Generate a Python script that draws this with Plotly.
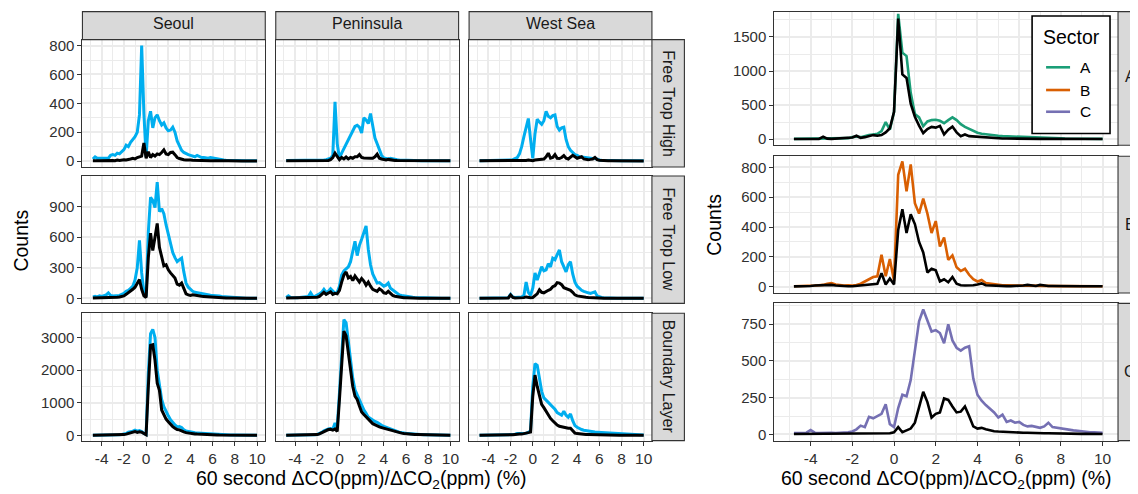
import plotly.graph_objects as go

W, H = 1138, 494
OFF = 8  # page body margin of the html page
FW, FH = W - OFF, H - OFF


def px(x):
    return (x - OFF) / FW


def py(y):
    return 1 - (y - OFF) / FH


# ---------------- data ----------------
x_bins = [round(-4.8 + 0.2 * i, 1) for i in range(75)]

regions = ["Seoul", "Peninsula", "West Sea"]
layers = ["Free Trop High", "Free Trop Low", "Boundary Layer"]
sectors = ["A", "B", "C"]
sector_colors = ["#1B9E77", "#D95F02", "#7570B3"]

# Free Trop High
sfh_b = [15, 30, 20, 20, 15, 18, 15, 20, 40, 45,
         40, 55, 50, 65, 80, 110, 100, 130, 150, 170,
         200, 320, 800, 330, 30, 280, 345, 230, 300, 320,
         280, 250, 265, 230, 210, 215, 235, 200, 140, 110,
         75, 60, 50, 45, 40, 35, 30, 40, 30, 25,
         25, 20, 20, 25, 22, 15, 12, 10, 10, 8,
         6, 5, 5, 4, 4, 3, 3, 2, 2, 2,
         2, 2, 2, 2, 2]
sfh_k = [3, 5, 3, 2, 3, 2, 3, 5, 5, 4,
         3, 8, 5, 8, 10, 8, 10, 15, 20, 15,
         25, 30, 35, 125, 20, 65, 25, 45, 35, 50,
         45, 60, 78, 50, 45, 60, 62, 45, 25, 18,
         12, 10, 8, 10, 8, 6, 5, 8, 5, 4,
         4, 3, 3, 3, 3, 2, 2, 2, 2, 2,
         2, 2, 1, 1, 1, 1, 1, 1, 1, 1,
         1, 1, 1, 1, 1]
pfh_b = [5, 5, 4, 4, 5, 4, 4, 3, 4, 5,
         4, 5, 5, 6, 5, 6, 6, 8, 10, 15,
         20, 40, 410, 120, 20, 55, 85, 120, 150, 185,
         215, 240, 248, 235, 195, 300, 285, 260, 330, 240,
         160, 120, 85, 40, 22, 18, 15, 20, 15, 12,
         10, 8, 7, 6, 5, 5, 4, 4, 3, 3,
         3, 3, 3, 2, 2, 2, 2, 2, 2, 2,
         2, 2, 2, 2, 2]
pfh_k = [3, 3, 3, 3, 3, 3, 3, 3, 3, 3,
         3, 3, 3, 3, 3, 3, 4, 4, 5, 5,
         10, 25, 55, 30, 10, 25, 15, 28, 15, 25,
         20, 30, 30, 45, 25, 22, 20, 18, 20, 20,
         30, 48, 20, 15, 10, 8, 12, 8, 6, 5,
         4, 4, 3, 3, 3, 3, 2, 2, 2, 2,
         2, 2, 2, 2, 2, 2, 2, 2, 2, 2,
         2, 2, 2, 2, 2]
wfh_b = [3, 3, 3, 3, 3, 3, 4, 4, 4, 5,
         5, 6, 6, 8, 8, 10, 15, 25, 50, 100,
         170, 240, 295, 150, 20, 190, 290, 270, 255, 280,
         345, 310, 300, 315, 320, 240, 215, 230, 235, 150,
         100, 75, 60, 45, 40, 30, 28, 25, 25, 22,
         20, 18, 20, 12, 8, 6, 5, 4, 4, 3,
         3, 3, 2, 2, 2, 2, 2, 2, 2, 2,
         2, 2, 2, 2, 2]
wfh_k = [2, 2, 2, 2, 2, 2, 2, 2, 2, 2,
         2, 2, 2, 2, 2, 2, 2, 3, 3, 3,
         5, 5, 8, 5, 3, 8, 10, 12, 10, 15,
         30, 55, 20, 25, 45, 20, 18, 25, 38, 20,
         15, 25, 40, 30, 20, 25, 30, 15, 12, 10,
         12, 15, 25, 10, 6, 4, 3, 3, 2, 2,
         2, 2, 2, 2, 2, 2, 1, 1, 1, 1,
         1, 1, 1, 1, 1]

# Free Trop Low
sfl_b = [15, 20, 15, 25, 20, 30, 35, 55, 30, 25,
         25, 30, 30, 40, 50, 70, 80, 100, 120, 180,
         300, 570, 250, 60, 20, 650, 990, 960, 890, 1140,
         850, 880, 830, 720, 620, 520, 450, 400, 360, 380,
         395, 260, 150, 110, 85, 70, 60, 55, 50, 45,
         40, 38, 35, 32, 30, 30, 28, 25, 20, 18,
         15, 12, 10, 8, 6, 5, 5, 4, 4, 3,
         3, 3, 2, 2, 2]
sfl_k = [5, 5, 5, 8, 5, 8, 10, 8, 8, 10,
         10, 12, 15, 20, 25, 40, 55, 75, 90, 110,
         150, 185, 90, 25, 10, 400, 640, 470, 600, 735,
         500, 400, 320, 330, 280, 250, 220, 200, 140, 130,
         150, 90, 45, 35, 30, 35, 30, 30, 25, 22,
         20, 18, 15, 12, 10, 10, 8, 8, 6, 5,
         4, 4, 3, 3, 3, 2, 2, 2, 2, 2,
         1, 1, 1, 1, 1]
pfl_b = [10, 25, 10, 8, 10, 8, 10, 12, 15, 15,
         20, 55, 20, 20, 30, 45, 60, 90, 60, 70,
         95, 70, 50, 60, 120, 230, 270, 290, 310, 360,
         450, 560, 420, 520, 580, 640, 710, 480, 330, 240,
         190, 150, 155, 140, 120, 130, 150, 100, 85, 70,
         50, 35, 30, 25, 22, 20, 15, 12, 10, 10,
         8, 8, 6, 6, 5, 5, 4, 4, 3, 3,
         3, 2, 2, 2, 2]
pfl_k = [5, 5, 5, 5, 5, 5, 5, 5, 5, 6,
         8, 10, 8, 10, 12, 20, 45, 60, 40, 55,
         65, 40, 50, 45, 80, 160, 230, 260, 200, 215,
         175, 220, 190, 160, 195, 170, 130, 160, 120, 90,
         80, 70, 95, 80, 55, 50, 70, 45, 30, 22,
         18, 12, 10, 8, 8, 6, 5, 5, 4, 4,
         3, 3, 3, 2, 2, 2, 2, 2, 1, 1,
         1, 1, 1, 1, 1]
wfl_b = [2, 2, 2, 2, 2, 2, 2, 3, 3, 3,
         3, 4, 5, 8, 40, 15, 10, 10, 10, 15,
         30, 160, 60, 30, 100, 250, 180, 240, 310, 270,
         280, 340, 310, 395, 380, 430, 475, 360, 300, 260,
         330, 360, 240, 160, 120, 95, 80, 70, 60, 55,
         50, 55, 65, 25, 15, 10, 8, 6, 5, 4,
         3, 3, 3, 2, 2, 2, 2, 2, 1, 1,
         1, 1, 1, 1, 1]
wfl_k = [2, 2, 2, 2, 2, 2, 2, 2, 2, 2,
         2, 3, 3, 5, 35, 10, 5, 5, 5, 5,
         8, 15, 10, 8, 10, 30, 45, 85, 60, 55,
         70, 80, 90, 115, 125, 155, 150, 135, 105, 95,
         85, 80, 60, 35, 25, 20, 18, 15, 12, 10,
         8, 6, 6, 5, 4, 4, 3, 3, 3, 2,
         1, 1, 1, 1, 1, 1, 1, 1, 1, 1,
         1, 1, 1, 1, 1]

# Boundary Layer
sbl_b = [5, 5, 5, 5, 5, 5, 5, 5, 5, 10,
         10, 15, 20, 30, 40, 60, 100, 110, 130, 160,
         130, 150, 120, 60, 30, 1900, 3120, 3250, 3000, 2000,
         1550, 1100, 880, 720, 600, 480, 380, 320, 260, 270,
         240, 170, 140, 120, 100, 90, 80, 70, 65, 60,
         55, 50, 45, 40, 35, 30, 28, 25, 22, 20,
         18, 16, 14, 12, 10, 10, 8, 8, 6, 6,
         5, 5, 4, 4, 4]
sbl_k = [3, 3, 3, 3, 3, 3, 3, 3, 3, 5,
         5, 8, 10, 15, 25, 40, 60, 80, 100, 120,
         90, 110, 100, 50, 20, 1500, 2760, 2780, 2300, 1600,
         1380, 780, 620, 500, 420, 330, 270, 220, 180, 170,
         150, 110, 85, 70, 60, 50, 45, 40, 35, 30,
         28, 25, 22, 20, 18, 15, 14, 12, 10, 10,
         8, 8, 7, 6, 6, 5, 5, 4, 4, 3,
         3, 3, 2, 2, 2]
pbl_b = [5, 5, 5, 5, 5, 5, 5, 5, 5, 8,
         10, 12, 15, 20, 30, 50, 90, 140, 180, 200,
         210, 190, 380, 250, 1300, 2300, 3550, 3450, 2900, 2250,
         1750, 1400, 1250, 1100, 900, 780, 680, 560, 520, 470,
         430, 400, 340, 310, 280, 250, 220, 190, 160, 145,
         120, 100, 85, 75, 65, 55, 50, 42, 38, 32,
         28, 25, 22, 20, 18, 15, 14, 12, 10, 9,
         8, 7, 6, 5, 5]
pbl_k = [3, 3, 3, 3, 3, 3, 3, 3, 3, 5,
         8, 10, 12, 18, 25, 45, 80, 120, 160, 180,
         185, 160, 200, 120, 1100, 2000, 3200, 3050, 2500, 1900,
         1500, 1200, 1100, 900, 720, 640, 560, 500, 430, 360,
         320, 290, 260, 240, 220, 200, 180, 160, 130, 110,
         95, 80, 70, 60, 50, 45, 40, 35, 30, 28,
         25, 22, 20, 18, 15, 14, 12, 10, 9, 8,
         7, 6, 5, 5, 4]
wbl_b = [5, 5, 5, 5, 5, 5, 5, 5, 5, 5,
         8, 8, 10, 12, 15, 25, 40, 60, 55, 50,
         60, 70, 90, 150, 1500, 2200, 2150, 1750, 1350, 1150,
         1080, 1000, 950, 880, 800, 700, 650, 620, 740, 620,
         560, 660, 450, 300, 250, 210, 180, 160, 145, 130,
         120, 110, 105, 100, 95, 90, 85, 80, 75, 70,
         65, 60, 55, 50, 45, 40, 35, 30, 28, 25,
         22, 20, 18, 15, 12]
wbl_k = [3, 3, 3, 3, 3, 3, 3, 3, 3, 3,
         5, 5, 8, 10, 12, 20, 30, 45, 45, 40,
         50, 60, 80, 100, 1200, 1850, 1500, 1230, 950, 850,
         730, 620, 520, 450, 380, 320, 280, 260, 240, 230,
         220, 220, 150, 70, 55, 45, 40, 35, 30, 28,
         25, 22, 20, 18, 16, 15, 14, 12, 10, 10,
         8, 8, 7, 6, 6, 5, 5, 4, 4, 3,
         3, 3, 2, 2, 2]

# Sectors (right panel)
sector_a = [5, 5, 5, 5, 5, 5, 8, 5, 5, 10,
            10, 8, 15, 15, 30, 40, 30, 50, 60, 70,
            80, 120, 250, 140, 400, 1840, 1270, 1220, 680, 370,
            320, 190, 260, 280, 285, 270, 235, 280, 320, 280,
            220, 180, 150, 120, 95, 80, 70, 60, 55, 50,
            45, 42, 40, 38, 35, 30, 28, 25, 22, 20,
            18, 16, 15, 14, 12, 10, 10, 9, 8, 8,
            7, 6, 6, 5, 5]
sector_a_k = [3, 3, 3, 5, 3, 5, 5, 35, 8, 5,
              10, 15, 10, 15, 25, 50, 20, 30, 40, 60,
              50, 60, 100, 160, 400, 1770, 950, 900, 520, 330,
              200, 90, 150, 180, 170, 195, 70, 140, 185, 100,
              45, 70, 45, 40, 30, 25, 20, 18, 15, 12,
              10, 10, 8, 8, 7, 6, 6, 5, 5, 4,
              4, 4, 3, 3, 3, 3, 2, 2, 2, 2,
              2, 2, 2, 2, 2]
sector_b = [3, 3, 3, 5, 5, 8, 10, 12, 20, 25,
            15, 10, 8, 10, 8, 12, 20, 35, 50, 65,
            70, 215, 70, 185, 40, 750, 840, 640, 820, 560,
            490, 590, 490, 360, 440, 270, 330, 180, 210, 130,
            105, 120, 80, 50, 35, 45, 25, 20, 15, 12,
            10, 10, 8, 8, 8, 7, 7, 6, 6, 5,
            5, 5, 5, 4, 4, 4, 4, 3, 3, 3,
            3, 3, 3, 3, 3]
sector_b_k = [2, 2, 2, 3, 5, 8, 10, 12, 15, 12,
              8, 5, 5, 3, 3, 5, 8, 10, 15, 15,
              20, 90, 15, 55, 15, 380, 520, 360, 485, 420,
              300, 230, 95, 120, 110, 35, 50, 30, 65, 20,
              10, 8, 8, 10, 15, 22, 10, 8, 6, 5,
              4, 4, 4, 4, 5, 8, 12, 6, 5, 12,
              6, 5, 5, 4, 4, 4, 3, 3, 3, 3,
              3, 3, 3, 3, 3]
sector_c = [10, 12, 10, 12, 30, 12, 10, 12, 10, 12,
            10, 12, 10, 15, 20, 35, 60, 50, 120, 110,
            125, 140, 205, 70, 50, 180, 270, 260, 370, 560,
            770, 850, 780, 700, 710, 690, 620, 750, 640, 590,
            570, 590, 600, 380, 270, 230, 200, 175, 150, 115,
            135, 85, 95, 80, 85, 65, 55, 58, 52, 45,
            55, 80, 50, 45, 42, 40, 35, 28, 25, 20,
            18, 15, 15, 13, 12]
sector_c_k = [3, 3, 3, 3, 3, 3, 3, 3, 3, 3,
              3, 3, 3, 3, 3, 3, 4, 4, 5, 5,
              5, 6, 8, 8, 15, 50, 15, 25, 40, 80,
              190, 290, 220, 115, 140, 150, 245, 235, 190, 150,
              155, 190, 125, 55, 40, 45, 35, 28, 22, 20,
              18, 16, 15, 15, 14, 12, 12, 10, 10, 9,
              8, 8, 7, 7, 6, 6, 5, 5, 5, 4,
              4, 4, 3, 3, 3]

left_total = [[sfh_b, pfh_b, wfh_b], [sfl_b, pfl_b, wfl_b], [sbl_b, pbl_b, wbl_b]]
left_sub = [[sfh_k, pfh_k, wfh_k], [sfl_k, pfl_k, wfl_k], [sbl_k, pbl_k, wbl_k]]
sector_total = [sector_a, sector_b, sector_c]
sector_sub = [sector_a_k, sector_b_k, sector_c_k]

x_ticks = [-4, -2, 0, 2, 4, 6, 8, 10]
x_minor = [-5, -3, -1, 1, 3, 5, 7, 9]
left_y_ticks = [[0, 200, 400, 600, 800], [0, 300, 600, 900], [0, 1000, 2000, 3000]]
left_y_minor = [[100, 300, 500, 700], [150, 450, 750, 1050], [500, 1500, 2500, 3500]]
right_y_ticks = [[0, 500, 1000, 1500], [0, 200, 400, 600, 800], [0, 250, 500, 750]]
right_y_minor = [[250, 750, 1250, 1750], [100, 300, 500, 700], [125, 375, 625, 875]]

# ---------------- layout geometry (reference screenshot pixels) ----------------
left_cols_px = [(82.5, 265.5), (276, 459), (469.5, 652.5)]
left_rows_px = [(37, 166), (175, 304), (314, 443)]
right_col_px = (775, 1119)
right_rows_px = [(5, 144), (155, 293.5), (304, 443)]
left_y_ranges = [[-41, 841], [-48, 1200], [-160, 3745]]
right_y_ranges = [[-90, 1925], [-42, 875], [-42, 892]]
x_range = [-5.74, 10.74]

FONT = "Liberation Sans, Arial, Helvetica, sans-serif"
BLUE = "#00AEEF"
GRID = "#EBEBEB"
BORDER = "#333333"
TICKC = "#303030"
TOP = OFF + 0.6  # highest drawable pixel row of the page

fig = go.Figure()
layout = dict(
    width=FW, height=FH,
    margin=dict(l=0, r=0, t=0, b=0),
    paper_bgcolor="white", plot_bgcolor="white",
    font=dict(family=FONT, color="black"),
    showlegend=False,
    shapes=[], annotations=[],
)


def make_axes(k, xdom, ydom, yrange, yticks, yminor, show_xlab, show_ylab):
    sfx = "" if k == 1 else str(k)
    y0, y1 = ydom
    lo, hi = yrange
    if y0 < TOP:  # clip the panel top, keeping the same value-per-pixel scale
        per_px = (hi - lo) / (y1 - y0)
        hi = hi - (TOP - y0) * per_px
        y0 = TOP
    layout["xaxis" + sfx] = dict(
        domain=[px(xdom[0]), px(xdom[1])], anchor="y" + sfx, range=x_range,
        tickmode="array", tickvals=x_ticks, ticktext=[str(v) for v in x_ticks],
        showticklabels=show_xlab, ticks="outside" if show_xlab else "",
        ticklen=4, tickwidth=1.1, tickcolor=BORDER,
        tickfont=dict(size=15.5, color=TICKC, family=FONT),
        showgrid=True, gridcolor=GRID, gridwidth=1.5, zeroline=False,
        minor=dict(tickmode="array", tickvals=x_minor, showgrid=True,
                   gridcolor=GRID, gridwidth=0.8, ticks=""),
        showline=True, linecolor=BORDER, linewidth=1.1, mirror=True,
        fixedrange=True,
    )
    layout["yaxis" + sfx] = dict(
        domain=[max(0, py(y1)), min(1, py(y0))], anchor="x" + sfx, range=[lo, hi],
        tickmode="array", tickvals=yticks, ticktext=[str(v) for v in yticks],
        showticklabels=show_ylab, ticks="outside" if show_ylab else "",
        ticklen=4, tickwidth=1.1, tickcolor=BORDER,
        tickfont=dict(size=15, color=TICKC, family=FONT),
        showgrid=True, gridcolor=GRID, gridwidth=1.5, zeroline=False,
        minor=dict(tickmode="array", tickvals=yminor, showgrid=True,
                   gridcolor=GRID, gridwidth=0.8, ticks=""),
        showline=True, linecolor=BORDER, linewidth=1.1, mirror=True,
        fixedrange=True,
    )
    return "x" + sfx, "y" + sfx


def add_text(text, x, y, size, color="black", angle=0, xanchor="center"):
    layout["annotations"].append(dict(
        text=text, xref="paper", yref="paper", x=px(x), y=py(y),
        xanchor=xanchor, yanchor="middle", showarrow=False, textangle=angle,
        font=dict(size=size, color=color, family=FONT)))


def strip(x0, x1, y0, y1, text, angle=0, tx=None, size=16):
    cy = (y0 + y1) / 2
    layout["shapes"].append(dict(
        type="rect", xref="paper", yref="paper",
        x0=px(x0), x1=px(x1), y0=py(y1), y1=py(max(y0, TOP)),
        fillcolor="#D9D9D9", line=dict(color=BORDER, width=1.1), layer="above"))
    cx = (x0 + x1) / 2 if tx is None else tx
    add_text(text, cx, cy, size, color="#1A1A1A", angle=angle)


# left facet grid
k = 0
for r in range(3):
    for c in range(3):
        k += 1
        xa, ya = make_axes(k, left_cols_px[c], left_rows_px[r], left_y_ranges[r],
                           left_y_ticks[r], left_y_minor[r],
                           show_xlab=(r == 2), show_ylab=(c == 0))
        fig.add_trace(go.Scatter(x=x_bins, y=left_total[r][c], mode="lines",
                                 name=regions[c] + " total",
                                 line=dict(color=BLUE, width=3), xaxis=xa, yaxis=ya,
                                 hoverinfo="skip"))
        fig.add_trace(go.Scatter(x=x_bins, y=left_sub[r][c], mode="lines",
                                 name=regions[c] + " subset",
                                 line=dict(color="black", width=3), xaxis=xa, yaxis=ya,
                                 hoverinfo="skip"))

for c in range(3):
    strip(left_cols_px[c][0], left_cols_px[c][1], 5, 37, regions[c])
for r in range(3):
    strip(652.5, 685, left_rows_px[r][0], left_rows_px[r][1], layers[r], angle=90)

# right sector panels
for r in range(3):
    k += 1
    xa, ya = make_axes(k, right_col_px, right_rows_px[r], right_y_ranges[r],
                       right_y_ticks[r], right_y_minor[r],
                       show_xlab=(r == 2), show_ylab=True)
    fig.add_trace(go.Scatter(x=x_bins, y=sector_total[r], mode="lines", name=sectors[r],
                             line=dict(color=sector_colors[r], width=2.6), xaxis=xa, yaxis=ya,
                             hoverinfo="skip"))
    fig.add_trace(go.Scatter(x=x_bins, y=sector_sub[r], mode="lines",
                             name=sectors[r] + " subset",
                             line=dict(color="black", width=2.6), xaxis=xa, yaxis=ya,
                             hoverinfo="skip"))
    strip(1119, 1152, right_rows_px[r][0], right_rows_px[r][1], sectors[r], tx=1131)

# axis titles
xtitle = "60 second \u0394CO(ppm)/\u0394CO<sub>2</sub>(ppm) (%)"
for cx in [362, 947]:
    add_text(xtitle, cx, 482, 19.5)
for (cx, cy) in [(21.5, 240), (715, 224)]:
    add_text("Counts", cx, cy, 19.5, angle=-90)

# legend box (Sector)
layout["shapes"].append(dict(
    type="rect", xref="paper", yref="paper",
    x0=px(1033), x1=px(1111), y0=py(132), y1=py(13),
    fillcolor="white", line=dict(color="black", width=1.6), layer="above"))
add_text("Sector", 1042, 34, 19.5, xanchor="left")
for i, (name, col) in enumerate(zip(sectors, sector_colors)):
    ky = [65, 88, 110][i]
    layout["shapes"].append(dict(
        type="line", xref="paper", yref="paper",
        x0=px(1047), x1=px(1071), y0=py(ky), y1=py(ky),
        line=dict(color=col, width=2.6), layer="above"))
    add_text(name, 1079, ky, 15.5, xanchor="left")

fig.update_layout(**layout)
fig.write_html("out.html")
